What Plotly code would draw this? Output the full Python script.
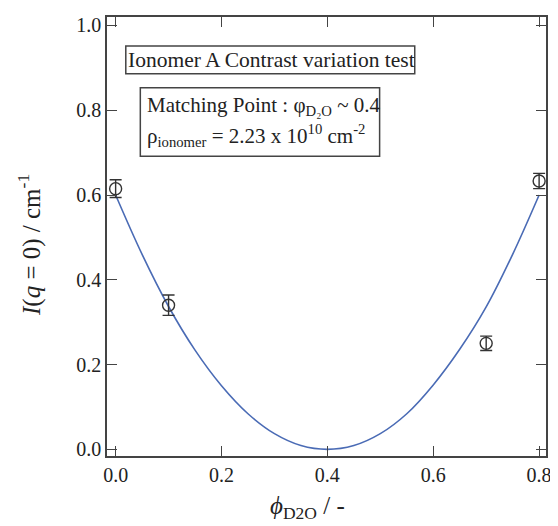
import plotly.graph_objects as go

# measured data
phi_d2o = [0.0, 0.1, 0.7, 0.8]
intensity = [0.615, 0.340, 0.250, 0.633]
intensity_err = [0.021, 0.024, 0.017, 0.018]

# fitted curve
fit_phi = [0.0, 0.05, 0.1, 0.15, 0.2, 0.25, 0.3, 0.35, 0.4, 0.45, 0.5, 0.55, 0.6, 0.65, 0.7, 0.75, 0.8]
fit_I = [0.600, 0.460, 0.337, 0.234, 0.150, 0.084, 0.037, 0.009, 0.0, 0.009, 0.037, 0.084, 0.152, 0.236, 0.336, 0.460, 0.600]

x_ticks = [0.0, 0.2, 0.4, 0.6, 0.8]
y_ticks = [0.0, 0.2, 0.4, 0.6, 0.8, 1.0]

FONT = "Liberation Serif"
AX = "#444444"

fig = go.Figure()
fig.add_trace(go.Scatter(
    x=fit_phi, y=fit_I, mode="lines",
    line=dict(color="#4a6bb5", width=1.6, shape="spline"),
    showlegend=False, hoverinfo="skip"))
fig.add_trace(go.Scatter(
    x=phi_d2o, y=intensity, mode="markers",
    marker=dict(symbol="circle-open", size=12, color="#333333", line=dict(width=1.4)),
    error_y=dict(type="data", array=intensity_err, color="#333333", thickness=1.4, width=6),
    showlegend=False))

fig.update_layout(
    width=550, height=518,
    margin=dict(l=99, r=7, t=6, b=70),
    paper_bgcolor="white", plot_bgcolor="white",
    font=dict(family=FONT, size=20, color="#222222"),
    xaxis=dict(range=[-0.0163, 0.813], tickvals=x_ticks, tickformat=".1f",
               ticks="inside", ticklen=10, tickwidth=1.4, tickcolor=AX,
               showline=True, linecolor=AX, linewidth=1.5, mirror="ticks",
               showgrid=False, zeroline=False,
               tickfont=dict(family=FONT, size=20, color="#222222")),
    yaxis=dict(range=[-0.0157, 1.0199], tickvals=y_ticks, tickformat=".1f",
               ticks="inside", ticklen=10, tickwidth=1.4, tickcolor=AX,
               showline=True, linecolor=AX, linewidth=1.5, mirror="ticks",
               showgrid=False, zeroline=False,
               tickfont=dict(family=FONT, size=20, color="#222222")),
)

# boxes
fig.add_shape(type="rect", xref="paper", yref="paper",
              x0=0.0428, x1=0.701, y0=0.871, y1=0.934,
              line=dict(color=AX, width=1.5), fillcolor="white")
fig.add_shape(type="rect", xref="paper", yref="paper",
              x0=0.0759, x1=0.621, y0=0.683, y1=0.839,
              line=dict(color=AX, width=1.5), fillcolor="white")

fig.add_annotation(xref="paper", yref="paper", x=0.374, y=0.903,
                   text="Ionomer A Contrast variation test", showarrow=False,
                   xanchor="center", yanchor="middle",
                   font=dict(family=FONT, size=21.5, color="#222222"))
fig.add_annotation(xref="paper", yref="paper", x=0.0856, y=0.797,
                   text="Matching Point : φ<sub>D₂O</sub> ~ 0.4", showarrow=False,
                   xanchor="left", yanchor="middle",
                   font=dict(family=FONT, size=21, color="#222222"))
fig.add_annotation(xref="paper", yref="paper", x=0.0856, y=0.731,
                   text="ρ<sub>ionomer</sub> = 2.23 x 10<sup>10</sup> cm<sup>-2</sup>", showarrow=False,
                   xanchor="left", yanchor="middle",
                   font=dict(family=FONT, size=21, color="#222222"))

# axis titles
fig.add_annotation(xref="paper", yref="paper", x=-0.176, y=0.48,
                   text="<i>I</i>(<i>q</i> = 0) / cm<sup>-1</sup>", showarrow=False,
                   textangle=-90, xanchor="center", yanchor="middle",
                   font=dict(family=FONT, size=25, color="#222222"))
fig.add_annotation(xref="paper", yref="paper", x=0.457, y=-0.118,
                   text="<i>ϕ</i><sub>D2O</sub> / -", showarrow=False,
                   xanchor="center", yanchor="middle",
                   font=dict(family=FONT, size=25, color="#222222"))

fig.write_html("out.html")
